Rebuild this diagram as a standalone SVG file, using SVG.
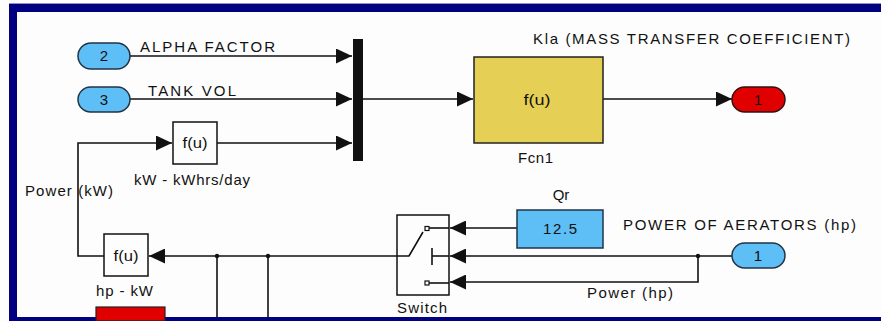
<svg xmlns="http://www.w3.org/2000/svg" width="881" height="321" viewBox="0 0 881 321">
<defs>
<style>
text{font-family:"Liberation Sans",Arial,sans-serif;font-size:15px;fill:#111}
.c{stroke:#111;stroke-width:1.6;fill:none}
.blk{fill:#fdfdfd;stroke:#111;stroke-width:1.5}
.inp{fill:#5ebef6;stroke:#223344;stroke-width:1.5}
.outp{fill:#e00000;stroke:#331111;stroke-width:1.5}
.dot{fill:#111}
</style>
<marker id="ah" markerUnits="userSpaceOnUse" markerWidth="17" markerHeight="15" refX="16" refY="7.5" orient="auto">
<path d="M0,0 L16,7.5 L0,15 z" fill="#111"/>
</marker>
</defs>
<rect width="881" height="321" fill="#fdfdfd"/>
<g id="frame">
<rect x="9" y="3" width="872" height="9" fill="#000080"/>
<rect x="9" y="3" width="8" height="318" fill="#000080"/>
<rect x="9" y="317" width="872" height="4" fill="#000080"/>
<line x1="9" y1="3.5" x2="881" y2="3.5" stroke="#9090d0" stroke-width="1"/>
</g>
<g id="connectors">
<line class="c" x1="130" y1="56" x2="352" y2="56" marker-end="url(#ah)"/>
<line class="c" x1="130" y1="99" x2="352" y2="99" marker-end="url(#ah)"/>
<line class="c" x1="217" y1="143" x2="352" y2="143" marker-end="url(#ah)"/>
<line class="c" x1="363" y1="99" x2="473" y2="99" marker-end="url(#ah)"/>
<line class="c" x1="603" y1="99" x2="732" y2="99" marker-end="url(#ah)"/>
<polyline class="c" points="104,256 78,256 78,143 172,143" marker-end="url(#ah)"/>
<line class="c" x1="397" y1="256" x2="149" y2="256" marker-end="url(#ah)"/>
<line class="c" x1="217" y1="256" x2="217" y2="317"/>
<line class="c" x1="268" y1="256" x2="268" y2="317"/>
<line class="c" x1="517" y1="228" x2="450" y2="228" marker-end="url(#ah)"/>
<line class="c" x1="732" y1="256" x2="450" y2="256" marker-end="url(#ah)"/>
<polyline class="c" points="698,256 698,282 450,282" marker-end="url(#ah)"/>
<circle class="dot" cx="217" cy="256" r="2.2"/>
<circle class="dot" cx="268" cy="256" r="2.2"/>
<circle class="dot" cx="698" cy="256" r="2.2"/>
</g>
<g id="in2">
<rect class="inp" x="78" y="43" width="52" height="26" rx="13"/>
<text x="104" y="61" text-anchor="middle">2</text>
</g>
<g id="in3">
<rect class="inp" x="78" y="87" width="52" height="25" rx="12.5"/>
<text x="104" y="105" text-anchor="middle">3</text>
</g>
<g id="in1">
<rect class="inp" x="732" y="243" width="53" height="25" rx="12.5"/>
<text x="758" y="261" text-anchor="middle">1</text>
</g>
<g id="out1">
<rect class="outp" x="732" y="87" width="53" height="25" rx="12.5"/>
<text x="758" y="105" text-anchor="middle">1</text>
</g>
<g id="mux">
<rect x="353" y="39" width="10" height="122" fill="#111"/>
</g>
<g id="fcn1">
<rect x="474" y="57" width="129" height="86" fill="#e5cf55" stroke="#222" stroke-width="1.5"/>
<text x="537" y="105" text-anchor="middle" textLength="27" lengthAdjust="spacingAndGlyphs">f(u)</text>
<text x="518" y="163" textLength="35" lengthAdjust="spacing">Fcn1</text>
<text x="533" y="44" textLength="317" lengthAdjust="spacing">Kla (MASS TRANSFER COEFFICIENT)</text>
</g>
<g id="kwh">
<rect class="blk" x="173" y="122" width="44" height="42"/>
<text x="195" y="148" text-anchor="middle" textLength="25" lengthAdjust="spacingAndGlyphs">f(u)</text>
<text x="134" y="185" textLength="116" lengthAdjust="spacing">kW - kWhrs/day</text>
</g>
<g id="hpkw">
<rect class="blk" x="104" y="234" width="44" height="42"/>
<text x="126" y="261" text-anchor="middle" textLength="25" lengthAdjust="spacingAndGlyphs">f(u)</text>
<text x="96" y="296" textLength="57" lengthAdjust="spacing">hp - kW</text>
</g>
<g id="qr">
<rect x="517" y="210" width="86" height="38" fill="#5ebef6" stroke="#223344" stroke-width="1.5"/>
<text x="560" y="234" text-anchor="middle" textLength="34" lengthAdjust="spacing">12.5</text>
<text x="561" y="200" text-anchor="middle">Qr</text>
</g>
<g id="switch">
<rect class="blk" x="397" y="215" width="52" height="80"/>
<polyline class="c" points="397,256 409,256 423,232"/>
<rect x="425" y="226.5" width="4" height="4" fill="#fdfdfd" stroke="#111" stroke-width="1.2"/>
<line class="c" x1="429" y1="228" x2="449" y2="228"/>
<line class="c" x1="432" y1="248" x2="432" y2="265"/>
<line class="c" x1="432" y1="256" x2="449" y2="256"/>
<rect x="425" y="281" width="4" height="4" fill="#fdfdfd" stroke="#111" stroke-width="1.2"/>
<line class="c" x1="429" y1="283" x2="449" y2="283"/>
<text x="397" y="313" textLength="50" lengthAdjust="spacing">Switch</text>
</g>
<g id="labels">
<text x="140" y="52" textLength="135" lengthAdjust="spacing">ALPHA FACTOR</text>
<text x="148" y="96" textLength="88" lengthAdjust="spacing">TANK VOL</text>
<text x="25" y="196" textLength="88" lengthAdjust="spacing">Power (kW)</text>
<text x="623" y="230" textLength="233" lengthAdjust="spacing">POWER OF AERATORS (hp)</text>
<text x="587" y="298" textLength="86" lengthAdjust="spacing">Power (hp)</text>
</g>
<g id="red-block">
<rect x="96" y="307" width="69" height="14" fill="#e00000" stroke="#222" stroke-width="1.2"/>
</g>
</svg>
